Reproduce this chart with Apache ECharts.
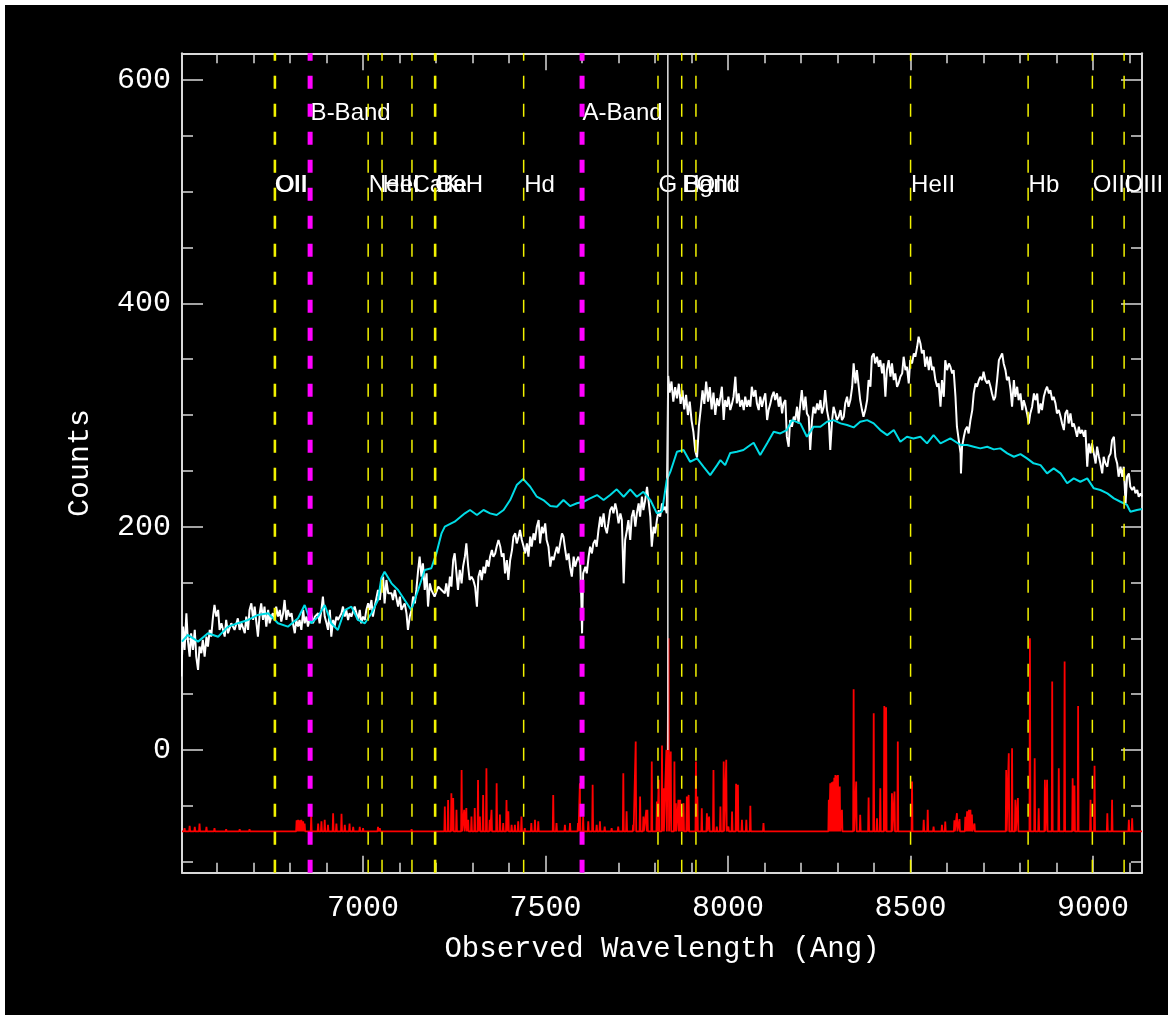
<!DOCTYPE html>
<html>
<head>
<meta charset="utf-8">
<script src="https://cdn.jsdelivr.net/npm/echarts@6/dist/echarts.min.js"></script>
<style>
  html, body { margin: 0; padding: 0; background: #ffffff; width: 1173px; height: 1020px; overflow: hidden; }
  #chart { position: absolute; left: 5px; top: 5px; width: 1163px; height: 1010px; background: #000000; }
</style>
</head>
<body>
<div id="chart"></div>
<script>
// Axis ranges and ticks
const xRange = [6504, 9134];
const yRange = [-110, 624];
const xMajorTicks = [7000, 7500, 8000, 8500, 9000];
const xMinorTicks = [6600, 6700, 6800, 6900, 7100, 7200, 7300, 7400, 7600, 7700, 7800, 7900,
                     8100, 8200, 8300, 8400, 8600, 8700, 8800, 8900, 9100];
const yMajorTicks = [0, 200, 400, 600];
const yMinorTicks = [-100, -50, 50, 100, 150, 250, 300, 350, 450, 500, 550];

// Observed spectrum [wavelength (Ang), counts]
const objectSpectrum = [
  [6502,65.7],[6507,110.5],[6511,89.6],[6516,122.4],[6520,98.5],[6525,83.6],[6529,104.5],[6534,89.6],
  [6539,107.5],[6543,83.6],[6548,71.7],[6552,92.6],[6557,86.6],[6561,98.5],[6566,83.6],[6571,101.5],
  [6575,92.6],[6580,107.5],[6584,101.5],[6589,119.4],[6593,129.9],[6598,119.4],[6603,125.4],[6607,107.5],
  [6612,113.4],[6621,101.5],[6625,116.4],[6630,104.5],[6639,113.4],[6648,107.5],[6657,117.9],[6662,107.5],
  [6667,113.4],[6676,104.5],[6680,119.4],[6685,107.5],[6689,125.4],[6694,131.3],[6699,116.4],[6703,128.4],
  [6712,101.5],[6717,122.4],[6721,131.3],[6726,116.4],[6730,128.4],[6735,110.5],[6740,125.4],[6744,113.4],
  [6749,119.4],[6753,122.4],[6758,116.4],[6762,128.4],[6767,119.4],[6772,125.4],[6776,114.9],[6781,122.4],
  [6785,134.3],[6790,116.4],[6794,125.4],[6799,119.4],[6804,122.4],[6808,113.4],[6813,104.5],[6817,116.4],
  [6822,110.5],[6826,116.4],[6831,107.5],[6836,125.4],[6840,113.4],[6845,119.4],[6849,110.5],[6858,122.4],
  [6863,113.4],[6868,119.4],[6877,122.4],[6881,113.4],[6886,125.4],[6890,137.3],[6895,119.4],[6900,113.4],
  [6904,107.5],[6909,125.4],[6913,101.5],[6918,116.4],[6922,110.5],[6927,119.4],[6931,116.4],[6941,122.4],
  [6945,128.4],[6950,119.4],[6954,125.4],[6959,116.4],[6963,122.4],[6968,119.4],[6977,128.4],[6982,122.4],
  [6986,116.4],[6991,125.4],[6995,113.4],[7000,119.4],[7005,116.4],[7009,125.4],[7014,131.3],[7018,125.4],
  [7023,134.3],[7027,119.4],[7032,128.4],[7041,143.3],[7046,134.3],[7050,146.3],[7055,155.2],[7059,131.3],
  [7064,152.2],[7069,140.3],[7078,140.3],[7082,134.3],[7087,143.3],[7096,128.4],[7101,137.3],[7105,125.4],
  [7114,131.3],[7119,122.4],[7123,107.5],[7128,119.4],[7133,125.4],[7137,137.3],[7142,131.3],[7146,143.3],
  [7151,161.2],[7155,173.1],[7160,155.2],[7164,167.2],[7169,143.3],[7174,158.2],[7178,128.4],[7183,149.2],
  [7187,143.3],[7196,137.3],[7206,146.3],[7215,143.3],[7224,140.3],[7228,149.2],[7233,137.3],[7238,155.2],
  [7242,146.3],[7247,170.1],[7251,176.1],[7256,158.2],[7260,143.3],[7265,161.2],[7270,149.2],[7274,164.2],
  [7279,173.1],[7283,185.1],[7288,164.2],[7292,152.2],[7297,155.2],
  [7302,152.2],[7307,146.2],[7312,128.3],[7316,155.2],[7321,161.1],[7325,152.2],[7330,164.1],[7334,158.1],
  [7339,170.1],[7344,164.1],[7348,173.1],[7353,179.0],[7357,173.1],[7362,176.0],[7366,182.0],[7371,188.0],
  [7376,182.0],[7380,173.1],[7385,176.0],[7389,158.1],[7394,170.1],[7398,152.2],[7403,170.1],[7408,179.0],
  [7412,191.0],[7417,194.0],[7421,185.0],[7426,191.0],[7430,197.0],[7435,188.0],[7440,182.0],[7444,176.0],
  [7449,185.0],[7453,173.1],[7458,191.0],[7462,182.0],[7467,194.0],[7471,188.0],[7476,199.9],[7481,205.9],
  [7485,185.0],[7490,199.9],[7494,194.0],[7499,202.9],[7503,188.0],[7508,182.0],[7513,164.1],[7517,173.1],
  [7522,170.1],[7526,176.0],[7531,182.0],[7535,176.0],[7540,185.0],[7545,194.0],[7549,191.0],[7554,179.0],
  [7558,170.1],[7563,176.0],[7567,164.1],[7572,155.2],[7577,173.1],[7581,164.1],[7586,170.1],[7590,173.1],
  [7595,167.1],[7598,134.3],[7600,104.4],[7603,158.1],[7609,164.1],[7613,158.1],[7618,173.1],[7622,182.0],
  [7627,176.0],[7631,185.0],[7636,188.0],[7640,182.0],[7645,197.0],[7650,208.9],[7654,199.9],[7659,211.9],
  [7663,199.9],[7668,194.0],[7672,202.9],[7677,214.8],[7682,217.8],[7686,211.9],[7691,220.8],[7695,214.8],
  [7700,202.9],[7705,211.9],[7709,205.9],[7714,149.2],[7718,188.0],[7723,197.0],[7727,205.9],[7732,188.0],
  [7736,208.9],[7741,214.8],[7746,199.9],[7750,211.9],[7755,220.8],[7759,208.9],[7764,226.8],[7768,214.8],
  [7773,223.8],[7778,235.7],[7782,223.8],[7787,208.9],[7791,182.0],[7796,199.9],[7800,194.0],[7805,205.9],
  [7810,214.8],[7814,208.9],[7819,220.8],[7823,214.8],[7828,217.8],[7832,211.9],
  [7836,335],[7840,320],[7845,330],[7850,312],[7855,325],[7860,315],[7865,328],[7870,310],[7875,322],
  [7880,305],[7885,318],[7890,300],[7895,312],[7900,295],[7905,285],[7910,268],[7915,262],[7920,290],
  [7925,305],[7930,322],[7935,310],[7940,330],[7945,312],[7950,325],[7955,305],[7960,320],[7965,300],
  [7970,315],[7975,308],
  [7979,316.4],[7983,325.3],[7988,295.5],[7992,313.4],[7997,307.4],[8001,316.4],[8006,304.4],[8011,310.4],
  [8015,316.4],[8020,334.3],[8024,310.4],[8029,319.4],[8033,307.4],[8038,313.4],[8043,304.4],[8047,316.4],
  [8052,307.4],[8056,313.4],[8061,307.4],[8065,325.3],[8070,316.4],[8075,322.3],[8079,310.4],[8084,304.4],
  [8088,316.4],[8093,307.4],[8097,313.4],[8102,319.4],[8107,295.5],[8111,304.4],[8116,310.4],[8120,316.4],
  [8125,320.8],[8129,313.4],[8134,319.4],[8139,307.4],[8143,316.4],[8148,301.4],[8152,310.4],[8157,313.4],
  [8161,280.6],[8166,271.6],[8170,295.5],[8175,289.5],[8180,298.5],[8184,295.5],[8189,307.4],[8193,292.5],
  [8198,310.4],[8202,322.3],[8207,304.4],[8212,316.4],[8216,301.4],[8221,298.5],[8225,268.6],[8230,295.5],
  [8234,307.4],[8239,301.4],[8244,310.4],[8248,304.4],[8253,313.4],[8257,301.4],[8262,307.4],[8266,322.3],
  [8271,304.4],[8276,295.5],[8280,268.6],[8285,295.5],[8289,307.4],[8294,301.4],[8298,295.5],[8303,298.5],
  [8308,304.4],[8312,295.5],[8317,298.5],[8321,310.4],[8326,316.4],[8330,307.4],[8335,313.4],[8340,325.3],
  [8344,346.2],[8349,328.3],[8353,340.2],[8358,325.3],[8362,313.4],[8367,304.4],[8371,298.5],[8376,304.4],
  [8381,313.4],[8385,331.3],[8390,325.3],[8394,352.2],[8399,355.2],[8403,346.2],[8408,352.2],[8413,343.2],
  [8417,349.2],[8422,337.3],[8426,346.2],[8431,316.4],[8435,340.2],[8440,349.2],[8445,334.3],[8449,346.2],
  [8454,331.3],[8458,337.3],[8463,325.3],[8467,328.3],[8472,334.3],[8477,337.3],[8481,352.2],[8486,340.2],
  [8490,343.2],[8495,328.3],[8499,349.2],[8504,346.2],[8509,355.2],[8513,352.2],[8518,361.1],[8522,370.1],
  [8527,364.1],[8531,355.2],[8536,358.1],[8540,343.2],[8545,352.2],[8550,340.2],[8554,352.2],[8559,340.2],
  [8563,343.2],[8568,331.3],[8573,325.3],[8577,328.3],
  [8582,307.4],[8586,331.2],[8591,316.3],[8595,349.1],[8600,340.2],[8605,346.2],[8609,343.2],[8614,337.2],
  [8618,340.2],[8623,316.3],[8627,289.5],[8632,277.5],[8637,265.6],[8638,247.7],[8641,271.6],[8646,280.5],
  [8650,286.5],[8655,289.5],[8659,283.5],[8664,295.4],[8669,304.4],[8673,319.3],[8678,328.3],[8682,325.3],
  [8687,331.2],[8691,334.2],[8696,331.2],[8700,338.7],[8705,331.2],[8710,328.3],[8714,331.2],[8719,325.3],
  [8723,319.3],[8728,313.3],[8732,316.3],[8737,331.2],[8742,349.1],[8746,350.6],[8751,355.1],[8755,346.2],
  [8760,340.2],[8764,331.2],[8769,334.2],[8774,322.3],[8778,307.4],[8783,331.2],[8787,316.3],[8792,325.3],
  [8796,313.3],[8801,319.3],[8806,304.4],[8810,313.3],[8815,307.4],[8819,301.4],[8824,292.4],[8828,301.4],
  [8833,307.4],[8838,319.3],[8842,313.3],[8847,319.3],[8851,301.4],[8856,310.4],[8860,304.4],[8865,316.3],
  [8870,322.3],[8874,325.3],[8879,319.3],[8883,322.3],[8888,313.3],[8892,316.3],[8897,310.4],[8901,301.4],
  [8906,304.4],[8911,298.4],[8915,292.4],[8920,286.5],[8924,301.4],[8929,304.4],[8933,292.4],[8938,301.4],
  [8943,289.5],[8947,292.4],[8952,286.5],[8956,280.5],[8961,289.5],[8965,283.5],[8970,286.5],[8975,280.5],
  [8979,286.5],[8984,253.7],[8988,274.5],[8993,265.6],[8997,274.5],[9002,265.6],[9007,256.6],[9011,271.6],
  [9016,262.6],[9020,256.6],[9025,247.7],[9029,262.6],[9034,256.6],[9039,253.7],[9043,262.6],[9048,265.6],
  [9052,277.5],[9057,280.5],[9061,262.6],[9066,256.6],[9070,244.7],[9075,253.7],[9080,244.7],[9084,253.7],
  [9089,220.8],[9093,244.7],[9098,247.7],[9102,235.8],[9107,232.8],[9112,235.8],[9116,229.8],[9121,232.8],
  [9125,226.8],[9130,229.8],[9134,226.8]
];

// Template spectrum [wavelength (Ang), counts]
const templateSpectrum = [
  [6504,97],[6520,103],[6548,97],[6575,104.5],[6603,101.4],[6630,110.4],[6657,113.4],[6685,116.4],
  [6712,120.9],[6740,122.4],[6767,113.4],[6794,110.4],[6822,117.9],[6840,129.8],[6858,113.4],[6877,119.4],
  [6895,129.8],[6913,113.4],[6931,107.4],[6950,125.3],[6968,128.3],[6986,116.4],[7005,113.4],[7023,122.4],
  [7041,134.3],[7050,153.7],[7059,159.6],[7078,149.2],[7096,143.2],[7114,134.3],[7132,125.3],[7151,143.2],
  [7169,161.1],[7187,162.7],[7201,176.1],[7215,194],[7224,200],[7251,204.4],[7279,211.9],[7293,214.9],
  [7312,210.4],[7330,214.9],[7348,211.9],[7366,210.4],[7385,214.9],[7403,223.8],[7421,237.2],[7439,242.6],
  [7458,235.7],[7476,226.8],[7494,223.8],[7513,218.4],[7531,217.8],[7549,223.8],[7567,218.4],[7586,220.9],
  [7604,222.3],[7622,225.3],[7641,228.3],[7659,223.8],[7677,228.3],[7695,233.4],[7714,226.8],[7732,233.4],
  [7750,226.8],[7768,231.2],[7787,223.8],[7805,211.9],[7819,213.4],[7832,241.7],[7842,249.2],[7860,267.1],
  [7878,268.6],[7896,258.1],[7915,261.1],[7933,253.6],[7951,246.2],[7970,255.1],[7979,259.6],[7992,255.1],
  [8006,266],[8024,267.1],[8042,268.6],[8061,273.1],[8070,275.1],[8088,264.1],[8107,274.6],[8125,285],
  [8143,283.5],[8161,286.5],[8175,295.4],[8198,292.5],[8216,280.5],[8234,289.4],[8253,289.4],[8271,293.9],
  [8289,295.4],[8308,292.5],[8326,291],[8344,288.9],[8362,293.9],[8381,295.4],[8399,292.5],[8417,286.5],
  [8436,282],[8454,286.5],[8472,276],[8490,280.5],[8508,279],[8527,280.5],[8545,274.6],[8563,282],
  [8582,274.6],[8609,279],[8637,273.1],[8655,273.1],[8673,271.6],[8691,270.1],[8710,271.6],[8728,269.2],
  [8746,270.1],[8765,265.6],[8783,262.6],[8801,265],[8819,261.1],[8837,256.7],[8856,255.1],[8874,247.7],
  [8892,252.2],[8911,247.7],[8929,238.8],[8947,243.2],[8965,240.2],[8984,243.2],[9002,234.3],[9020,232.8],
  [9039,229.8],[9057,225.3],[9075,222.3],[9093,219.4],[9102,213.4],[9120,214.9],[9134,215.8]
];

// Sky emission: continuum level and individual line peaks [wavelength, counts]
const skyLevel = -73;
const skyPeaks = [
  [6511,-70],[6525,-68],[6539,-69],[6552,-66],[6571,-69],[6593,-70],[6625,-71],[6662,-71],[6689,-71],
  [6818,-63],[6822,-62.7],[6826,-63],[6831,-62.7],[6836,-64],[6840,-66],[6858,-59],[6877,-66],[6886,-64],
  [6895,-62.7],[6904,-67],[6918,-56.7],[6927,-66],[6941,-57.3],[6950,-67],[6963,-66],[6973,-69],[6991,-69],
  [7000,-70],[7041,-69],[7046,-70],[7133,-71],[7151,-71.5],[7169,-71.5],
  [7224,-50.7],[7233,-44.8],[7242,-38.8],[7247,-43],[7256,-53.7],[7270,-17.9],[7277,-53.7],[7283,-52],
  [7288,-62.7],[7297,-59.7],[7306,-52],[7315,-26.9],[7320,-59.7],[7329,-40.3],[7338,-16.4],[7347,-62.7],
  [7352,-53.7],[7366,-29.8],[7375,-58],[7384,-65.6],[7393,-44.8],[7398,-55],[7407,-67],[7416,-67],
  [7425,-64],[7434,-59.7],[7443,-70],[7461,-65.6],[7471,-62.7],[7480,-64],[7521,-40.3],[7530,-65.6],
  [7553,-67],[7567,-65.6],[7589,-65.6],[7594,-29.8],[7603,-59.7],[7617,-64],[7629,-31.3],[7640,-67],
  [7649,-64],[7662,-68.6],[7681,-70],[7699,-68.6],[7713,-20.9],[7722,-55],[7740,-67],[7747,7.5],
  [7759,-41.8],[7768,-59.7],[7776,-53.7],[7779,-53.7],[7791,-10.4],[7805,-46.2],[7810,-26.8],[7819,3.9],
  [7823,-34.3],[7831,0],[7837,100],[7843,-1.5],[7853,-10.4],[7857,-47.7],[7864,-44.7],[7869,-44.7],
  [7874,-56.7],[7878,-47.7],[7887,-41.8],[7892,-40.3],[7912,-10.4],[7916,-41.8],[7928,-52.2],[7942,-56.7],
  [7948,-59.7],[7960,-17.9],[7969,-68.6],[7979,-50.7],[7988,-10.4],[7995,-8.9],[8001,-68.6],[8011,-55.2],
  [8022,-30.4],[8027,-31.3],[8038,-62.6],[8050,-62.6],[8061,-50.1],[8075,-71.6],[8097,-65.6],
  [8276,-44.7],[8280,-29.8],[8284,-29],[8288,-28.3],[8291,-25],[8294,-22.4],[8298,-23],[8301,-22.4],
  [8306,-32.8],[8312,-53.7],
  [8344,54.3],[8351,-28.3],[8362,-58.2],[8385,-42.7],[8399,32.9],[8408,-61.2],[8417,-34.3],[8428,39.4],
  [8433,38.2],[8449,-38.8],[8456,-37.3],[8465,7.5],[8481,-71.6],[8504,-28.3],[8536,-62.6],[8547,-53.7],
  [8563,-68.6],[8586,-67.1],[8595,-64.1],
  [8620,-63],[8627,-56.7],[8634,-62],[8650,-60],[8655,-55],[8660,-53.7],[8664,-53.7],[8668,-58],[8675,-66],
  [8762,-17.9],[8769,-3.0],[8778,1.5],[8787,-44.7],[8794,-43.2],[8827,100],[8840,-7.4],[8851,-52.2],
  [8868,-26.8],[8874,-26.8],[8888,61.2],[8906,-16.4],[8922,79.1],[8944,-25.3],[8949,-31.9],[8959,39.4],
  [8993,-44.7],[9004,-14.3],[9039,-56.7],[9052,-44.7],[9098,-62.6],[9107,-61.2]
];

// Spectral feature markers (observed wavelength, label)
const featureLines = [
  [6757, 'OII'], [6760, 'OII'],
  [7014, 'NeIII'], [7052, 'HeI'], [7134, 'CaK'],
  [7196, 'CaH'], [7199, 'He'],
  [7440, 'Hd'], [7808, 'G Band'], [7873, 'Hg'], [7912, 'OIII'],
  [8500, 'HeII'], [8822, 'Hb'], [8998, 'OIII'], [9085, 'OIII']
];
const featureLabelLevel = 506;
// Telluric absorption bands
const bandLines = [[6855, 'B-Band'], [7600, 'A-Band']];
const bandLabelLevel = 570;
// Reference wavelength marker
const markerWave = 7835;
const markerSpan = [0, 624];

const AXIS_COLOR = '#d9d9d9';
const MONO = "'Liberation Mono', 'DejaVu Sans Mono', monospace";
const SANS = "'Liberation Sans', Arial, sans-serif";

// sky line list -> polyline with narrow line profiles on the continuum
const skyData = [];
const sortedPeaks = skyPeaks.slice().sort((a, b) => a[0] - b[0]);
skyData.push([xRange[0], skyLevel]);
sortedPeaks.forEach(p => {
  skyData.push([p[0] - 1.3, skyLevel]);
  skyData.push([p[0], p[1]]);
  skyData.push([p[0] + 1.3, skyLevel]);
});
skyData.push([xRange[1], skyLevel]);

const plainNumber = v => String(v);

function xAxisDef(position, major) {
  return {
    type: 'value', min: xRange[0], max: xRange[1], position: position,
    axisLine: { show: major, onZero: false, lineStyle: { color: AXIS_COLOR, width: 2 } },
    axisTick: { show: true, inside: true, length: major ? 17 : 10,
                customValues: major ? xMajorTicks : xMinorTicks,
                lineStyle: { color: AXIS_COLOR, width: 1.5 } },
    axisLabel: { show: major && position === 'bottom', customValues: xMajorTicks, formatter: plainNumber,
                 color: '#ffffff', fontFamily: MONO, fontSize: 30, margin: 20 },
    splitLine: { show: false }
  };
}
function yAxisDef(position, major) {
  return {
    type: 'value', min: yRange[0], max: yRange[1], position: position,
    axisLine: { show: major, onZero: false, lineStyle: { color: AXIS_COLOR, width: 2 } },
    axisTick: { show: true, inside: true, length: major ? 21 : 11,
                customValues: major ? yMajorTicks : yMinorTicks,
                lineStyle: { color: AXIS_COLOR, width: 1.5 } },
    axisLabel: { show: major && position === 'left', customValues: yMajorTicks, formatter: plainNumber,
                 color: '#ffffff', fontFamily: MONO, fontSize: 30, margin: 11 },
    splitLine: { show: false }
  };
}

const xAxes = [xAxisDef('bottom', true), xAxisDef('bottom', false), xAxisDef('top', true), xAxisDef('top', false)];
xAxes[0].name = 'Observed Wavelength (Ang)';
xAxes[0].nameLocation = 'middle';
xAxes[0].nameGap = 62;
xAxes[0].nameTextStyle = { color: '#ffffff', fontFamily: MONO, fontSize: 29 };
const yAxes = [yAxisDef('left', true), yAxisDef('left', false), yAxisDef('right', true), yAxisDef('right', false)];
yAxes[0].name = 'Counts';
yAxes[0].nameLocation = 'middle';
yAxes[0].nameRotate = 90;
yAxes[0].nameGap = 87;
yAxes[0].nameTextStyle = { color: '#ffffff', fontFamily: MONO, fontSize: 30 };

const series = [
  { name: 'object', type: 'line', data: objectSpectrum, symbol: 'none', silent: true,
    lineStyle: { color: '#ffffff', width: 2 } },
  { name: 'template', type: 'line', data: templateSpectrum, symbol: 'none', silent: true,
    lineStyle: { color: '#00dce6', width: 2 } },
  { name: 'sky', type: 'line', data: skyData, symbol: 'none', silent: true,
    lineStyle: { color: '#ff0000', width: 1.8 } }
];

featureLines.forEach(f => {
  series.push({ type: 'line', symbol: 'none', silent: true,
    data: [[f[0], yRange[0]], [f[0], yRange[1]]],
    lineStyle: { color: '#f2f200', width: 1.5, type: [13, 15], dashOffset: 0 } });
});
bandLines.forEach(b => {
  series.push({ type: 'line', symbol: 'none', silent: true,
    data: [[b[0], yRange[0]], [b[0], yRange[1]]],
    lineStyle: { color: '#ff00ff', width: 5, type: [13, 15], dashOffset: 0 } });
});
series.push({ type: 'line', symbol: 'none', silent: true,
  data: [[markerWave, markerSpan[0]], [markerWave, markerSpan[1]]],
  lineStyle: { color: '#e6e6e6', width: 1.5 } });

const labelData = featureLines.map(f => ({ value: [f[0], featureLabelLevel], name: f[1] }))
  .concat(bandLines.map(b => ({ value: [b[0], bandLabelLevel], name: b[1] })));
series.push({ type: 'scatter', symbolSize: 1, silent: true, clip: false,
  itemStyle: { color: 'rgba(0,0,0,0)', opacity: 1 }, data: labelData,
  label: { show: true, position: 'right', distance: 0, formatter: p => p.name, opacity: 1,
           color: '#ffffff', fontFamily: SANS, fontSize: 24, textBorderWidth: 0 } });

const chart = echarts.init(document.getElementById('chart'), null, { renderer: 'canvas' });
chart.setOption({
  backgroundColor: '#000000',
  animation: false,
  grid: { left: 177, top: 48.3, width: 960, height: 819.4, containLabel: false },
  xAxis: xAxes,
  yAxis: yAxes,
  series: series
});
</script>
</body>
</html>
